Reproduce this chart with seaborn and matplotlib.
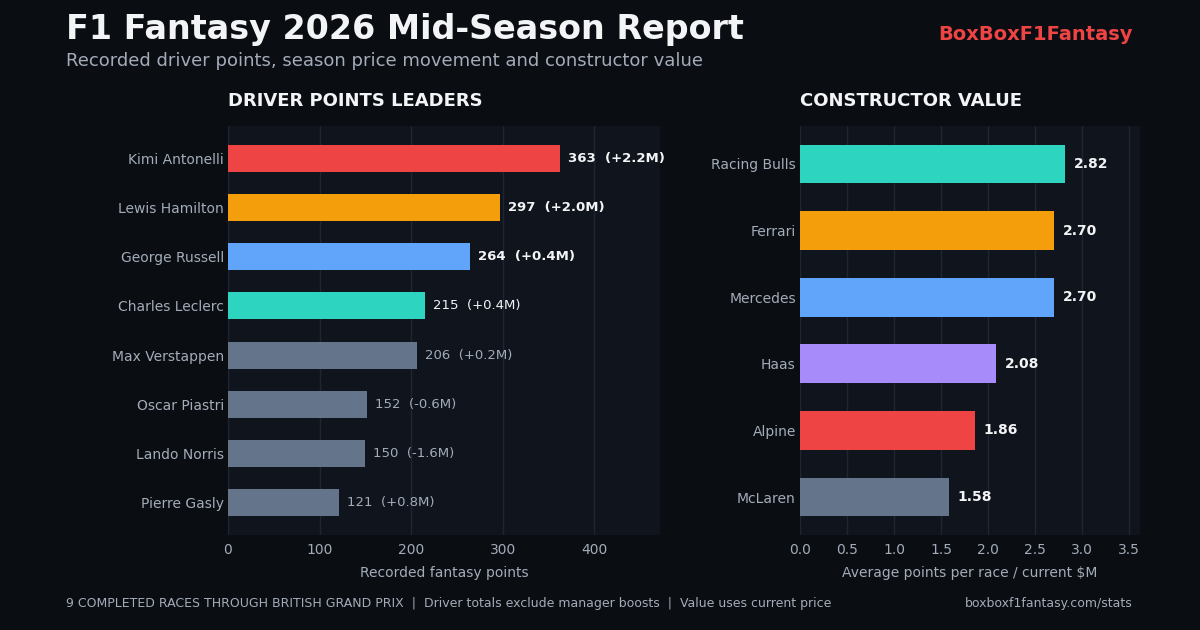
import seaborn as sns
import matplotlib.pyplot as plt

# data
drivers = ['Kimi Antonelli', 'Lewis Hamilton', 'George Russell', 'Charles Leclerc',
           'Max Verstappen', 'Oscar Piastri', 'Lando Norris', 'Pierre Gasly']
points = [363, 297, 264, 215, 206, 152, 150, 121]
price_change = [2.2, 2.0, 0.4, 0.4, 0.2, -0.6, -1.6, 0.8]
driver_colors = ['#ef4444', '#f59e0b', '#60a5fa', '#2dd4bf',
                 '#64748b', '#64748b', '#64748b', '#64748b']

constructors = ['Racing Bulls', 'Ferrari', 'Mercedes', 'Haas', 'Alpine', 'McLaren']
value = [2.82, 2.70, 2.70, 2.08, 1.86, 1.58]
team_colors = ['#2dd4bf', '#f59e0b', '#60a5fa', '#a78bfa', '#ef4444', '#64748b']

BG = '#0a0d12'
PANEL = '#10141d'
GRID = '#1e2533'
MUTED = '#a3acb9'
WHITE = '#f3f4f6'

sns.set_theme(style='dark')
plt.rcParams['font.family'] = ['DejaVu Sans']

fig = plt.figure(figsize=(12, 6.3), dpi=100, facecolor=BG)
ax1 = fig.add_axes([0.19, 0.1508, 0.36, 0.6492])
ax2 = fig.add_axes([0.6667, 0.1508, 0.2833, 0.6492])

sns.barplot(x=points, y=drivers, hue=drivers, palette=driver_colors, legend=False,
            orient='h', width=0.55, saturation=1, linewidth=0, edgecolor='none', ax=ax1)
sns.barplot(x=value, y=constructors, hue=constructors, palette=team_colors, legend=False,
            orient='h', width=0.58, saturation=1, linewidth=0, edgecolor='none', ax=ax2)

for ax in (ax1, ax2):
    ax.set_facecolor(PANEL)
    for s in ax.spines.values():
        s.set_visible(False)
    ax.grid(axis='x', color=GRID, linewidth=1)
    ax.grid(axis='y', visible=False)
    ax.set_axisbelow(True)
    ax.tick_params(axis='y', length=0, labelsize=10, labelcolor=MUTED, pad=3)
    ax.tick_params(axis='x', length=0, labelsize=10, labelcolor=MUTED, pad=6)
    ax.set_ylabel('')

ax1.set_xlim(0, 471.9)
ax1.set_xticks([0, 100, 200, 300, 400])
ax1.set_ylim(len(drivers) - 1 + 0.655, -0.655)
ax1.set_xlabel('Recorded fantasy points', color=MUTED, fontsize=10, labelpad=6)

ax2.set_xlim(0, 3.617)
ax2.set_xticks([0, 0.5, 1.0, 1.5, 2.0, 2.5, 3.0, 3.5])
ax2.set_xticklabels(['0.0', '0.5', '1.0', '1.5', '2.0', '2.5', '3.0', '3.5'])
ax2.set_ylim(len(constructors) - 1 + 0.57, -0.57)
ax2.set_xlabel('Average points per race / current $M', color=MUTED, fontsize=10, labelpad=6)

# driver labels
for i, (p, c) in enumerate(zip(points, price_change)):
    txt = f'{p}  ({c:+.1f}M)'
    if i < 3:
        ax1.text(p + 8.7, i, txt, va='center', ha='left', fontsize=9.5,
                 fontweight='bold', color=WHITE)
    elif i == 3:
        ax1.text(p + 8.7, i, txt, va='center', ha='left', fontsize=9.5, color=WHITE)
    else:
        ax1.text(p + 8.7, i, txt, va='center', ha='left', fontsize=9.5, color=MUTED)

for i, v in enumerate(value):
    ax2.text(v + 0.095, i, f'{v:.2f}', va='center', ha='left', fontsize=10,
             fontweight='bold', color=WHITE)

ax1.text(0, 1.04, 'DRIVER POINTS LEADERS', transform=ax1.transAxes, ha='left',
         va='bottom', fontsize=13, fontweight='bold', color=WHITE)
ax2.text(0, 1.04, 'CONSTRUCTOR VALUE', transform=ax2.transAxes, ha='left',
         va='bottom', fontsize=13, fontweight='bold', color=WHITE)

fig.text(66 / 1200, 1 - 29 / 630, 'F1 Fantasy 2026 Mid-Season Report', ha='left',
         va='center', fontsize=24, fontweight='bold', color=WHITE)
fig.text(66 / 1200, 1 - 61 / 630, 'Recorded driver points, season price movement and constructor value',
         ha='left', va='center', fontsize=13, color=MUTED)
fig.text(1133 / 1200, 1 - 35 / 630, 'BoxBoxF1Fantasy', ha='right', va='center',
         fontsize=14, fontweight='bold', color='#ef4444')
fig.text(66 / 1200, 1 - 604 / 630,
         '9 COMPLETED RACES THROUGH BRITISH GRAND PRIX  |  Driver totals exclude manager boosts  |  Value uses current price',
         ha='left', va='center', fontsize=9, color=MUTED)
fig.text(1133 / 1200, 1 - 604 / 630, 'boxboxf1fantasy.com/stats', ha='right', va='center',
         fontsize=9, color=MUTED)

fig.savefig('out.png', dpi=100, facecolor=BG)
